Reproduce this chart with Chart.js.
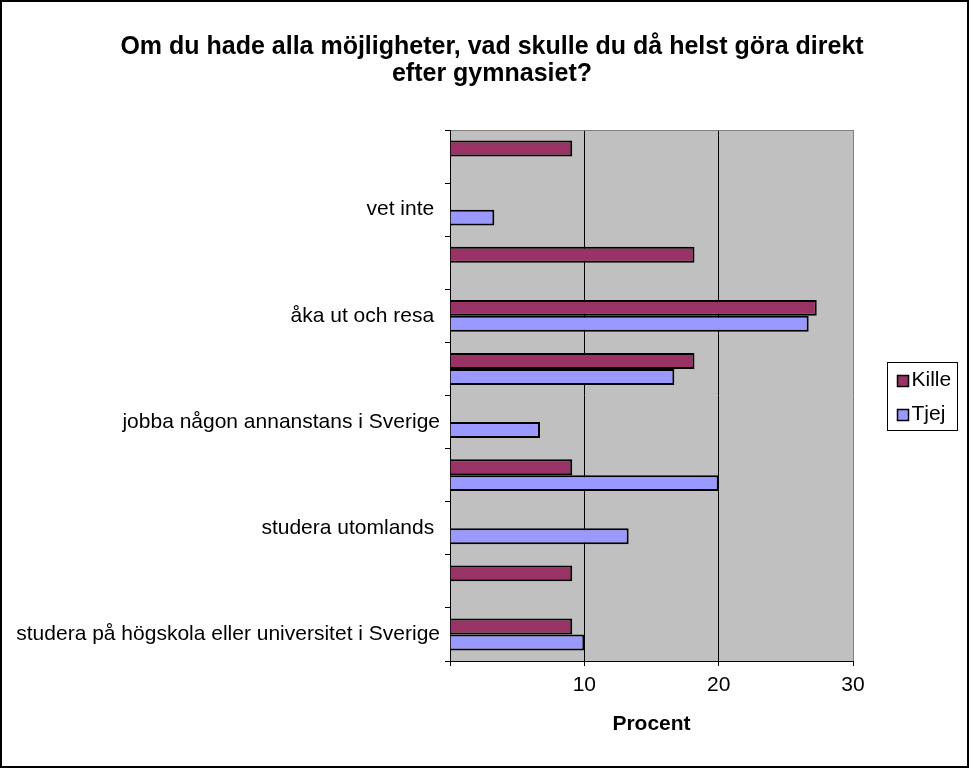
<!DOCTYPE html>
<html>
<head>
<meta charset="utf-8">
<script src="https://cdn.jsdelivr.net/npm/chart.js@4.4.0/dist/chart.umd.min.js"></script>
<style>
  html, body { margin: 0; padding: 0; background: #fff; }
  #wrap { width: 969px; height: 768px; }
</style>
</head>
<body>
<div id="wrap"><canvas id="chart" width="969" height="768"></canvas></div>
<script>
// data (top to bottom), every other category label is hidden
const categories = ['', 'vet inte ', '', 'åka ut och resa ', '', 'jobba någon annanstans i Sverige', '', 'studera utomlands ', '', 'studera på högskola eller universitet i Sverige'];
const kille = [9.1, 0, 18.2, 27.3, 18.2, 0, 9.1, 0, 9.1, 9.1];
const tjej = [0, 3.3, 0, 26.7, 16.7, 6.7, 20, 13.3, 0, 10];
const xTicks = [0, 10, 20, 30];
const seriesNames = ['Kille', 'Tjej'];
const titleLines = ['Om du hade alla möjligheter, vad skulle du då helst göra direkt', 'efter gymnasiet?'];

const FONT = "'Liberation Sans', Arial, sans-serif";

// background, plot area fill, outer frame, legend box
const decor = {
  id: 'decor',
  beforeDraw(chart) {
    const { ctx, chartArea: a } = chart;
    ctx.save();
    ctx.fillStyle = '#fff';
    ctx.fillRect(0, 0, chart.width, chart.height);
    ctx.fillStyle = '#c0c0c0';
    ctx.fillRect(a.left, a.top, a.right - a.left, a.bottom - a.top);
    ctx.restore();
  },
  afterDraw(chart) {
    const { ctx, chartArea: a } = chart;
    ctx.save();
    // outer frame
    ctx.strokeStyle = '#000';
    ctx.lineWidth = 2;
    ctx.strokeRect(1, 1, chart.width - 2, chart.height - 2);

    // legend
    const lx = a.right + 34.5, ly = 362.5, lw = 70, lh = 68;
    ctx.lineWidth = 1;
    ctx.strokeRect(lx, ly, lw, lh);
    ctx.font = '21px ' + FONT;
    ctx.textBaseline = 'middle';
    chart.data.datasets.forEach((ds, i) => {
      const cy = ly + 18 + i * 34;
      ctx.fillStyle = ds.backgroundColor;
      ctx.fillRect(lx + 10, cy - 5, 11, 11);
      ctx.strokeStyle = '#000';
      ctx.lineWidth = 1.5;
      ctx.strokeRect(lx + 10, cy - 5, 11, 11);
      ctx.fillStyle = '#000';
      ctx.fillText(ds.label, lx + 24, cy);
    });
    ctx.restore();
  }
};

new Chart(document.getElementById('chart'), {
  type: 'bar',
  data: {
    labels: categories,
    datasets: [
      { label: seriesNames[0], data: kille, backgroundColor: '#993366', borderColor: '#000', borderWidth: 2 },
      { label: seriesNames[1], data: tjej, backgroundColor: '#9999ff', borderColor: '#000', borderWidth: 2 }
    ]
  },
  options: {
    indexAxis: 'y',
    responsive: false,
    animation: false,
    categoryPercentage: 0.6,
    barPercentage: 1.0,
    layout: { padding: { left: 15, right: 0, top: 10, bottom: 0 } },
    plugins: {
      legend: { display: false },
      tooltip: { enabled: false },
      title: {
        display: true,
        text: titleLines,
        color: '#000',
        font: { family: FONT, size: 25, weight: 'bold', lineHeight: 1.1 },
        padding: { top: 23, bottom: 42 }
      }
    },
    scales: {
      x: {
        min: 0,
        max: 30,
        afterBuildTicks: s => { s.ticks = xTicks.map(v => ({ value: v })); },
        afterFit: s => { s.height = 107; },
        ticks: {
          color: '#000',
          padding: 7,
          font: { family: FONT, size: 21 },
          callback: v => (v === 0 ? '' : v)
        },
        grid: {
          color: c => (c.tick && c.tick.value === 30 ? '#808080' : '#000'),
          tickColor: '#000',
          tickLength: 5,
          lineWidth: 1
        },
        border: { color: '#000', width: 1 },
        title: {
          display: true,
          text: 'Procent',
          color: '#000',
          font: { family: FONT, size: 21, weight: 'bold' },
          padding: { top: 0, bottom: 31 }
        }
      },
      y: {
        afterFit: s => { s.width = 450 - 15; },
        ticks: {
          autoSkip: false,
          color: '#000',
          padding: 5,
          font: { family: FONT, size: 21 }
        },
        grid: {
          offset: true,
          drawOnChartArea: true,
          color: c => (c.index === 0 ? '#808080' : 'rgba(0,0,0,0)'),
          tickColor: '#000',
          tickLength: 5
        },
        border: { color: '#000', width: 1 }
      },
      yRight: {
        type: 'category',
        position: 'right',
        afterFit: s => { s.width = 116; },
        ticks: { display: false },
        grid: { display: false },
        border: { display: false }
      }
    }
  },
  plugins: [decor]
});
</script>
</body>
</html>
